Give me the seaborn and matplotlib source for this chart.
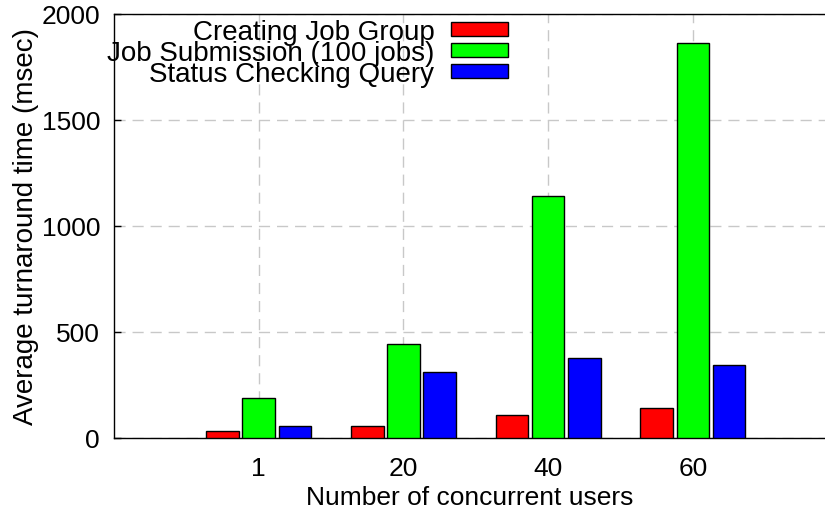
import matplotlib
matplotlib.use("Agg")
import matplotlib.pyplot as plt
import seaborn as sns
import pandas as pd
from matplotlib.patches import Patch

users = ["1", "20", "40", "60"]
series = ["Creating Job Group", "Job Submission (100 jobs)", "Status Checking Query"]
creating = [32, 55, 104, 137]
submission = [187, 439, 1140, 1863]
status = [53, 307, 377, 343]
colors = ["#ff0000", "#00ff00", "#0000ff"]

rows = []
for s, vals in zip(series, [creating, submission, status]):
    for u, v in zip(users, vals):
        rows.append({"users": u, "series": s, "time": v})
df = pd.DataFrame(rows)

sns.set_style("white")
plt.rcParams["font.family"] = ["Liberation Sans", "DejaVu Sans"]
plt.rcParams["text.color"] = "black"
plt.rcParams["axes.labelcolor"] = "black"
plt.rcParams["xtick.color"] = "black"
plt.rcParams["ytick.color"] = "black"

fig = plt.figure(figsize=(8.25, 5.1), dpi=100)
ax = fig.add_axes([114 / 825, (510 - 438.5) / 510, 1 - 114 / 825, (438.5 - 14.7) / 510])

sns.barplot(data=df, x="users", y="time", hue="series", order=users, hue_order=series,
            palette=colors, width=0.75, gap=0.1, edgecolor="black", linewidth=1.0,
            saturation=1, ax=ax, legend=False, zorder=3)

ax.set_xlim(-1, 3.913)
ax.set_ylim(0, 2000)
ax.set_yticks([0, 500, 1000, 1500, 2000])
ax.grid(True, color="#c8c8c8", linestyle=(0, (8, 5)), linewidth=1.0, zorder=0)
ax.set_axisbelow(True)

for side in ["left", "top", "bottom"]:
    ax.spines[side].set_visible(True)
    ax.spines[side].set_color("black")
    ax.spines[side].set_linewidth(1.0)
ax.spines["right"].set_visible(False)

ax.tick_params(axis="y", direction="in", length=5, width=1, left=True, labelsize=19, pad=10)
ax.tick_params(axis="x", length=0, labelsize=19, pad=13)
ax.set_xlabel("Number of concurrent users", fontsize=19, labelpad=4)
ax.set_ylabel("Average turnaround time (msec)", fontsize=20, labelpad=2)

handles = [Patch(facecolor=c, edgecolor="black", linewidth=1.0) for c in colors]
leg = ax.legend(handles, series, loc="upper right",
                frameon=False, fontsize=20, markerfirst=False, labelspacing=-0.18,
                handlelength=2.05, handleheight=0.36, handletextpad=0.6,
                borderaxespad=0.0, borderpad=0.0)
leg.set_bbox_to_anchor((508 / 825, (510 - 20) / 510), transform=fig.transFigure)

fig.savefig("out.png", dpi=100)
